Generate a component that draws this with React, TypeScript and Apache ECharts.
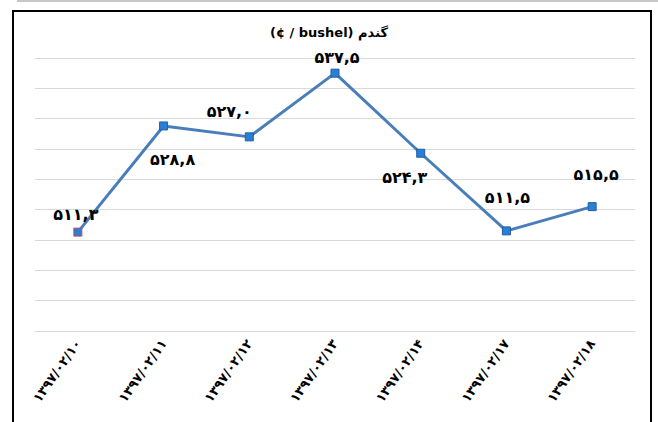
import React, { useEffect, useRef } from "react";
import * as echarts from "echarts";

const categories = [
  "۱۳۹۷/۰۲/۱۰",
  "۱۳۹۷/۰۲/۱۱",
  "۱۳۹۷/۰۲/۱۲",
  "۱۳۹۷/۰۲/۱۳",
  "۱۳۹۷/۰۲/۱۴",
  "۱۳۹۷/۰۲/۱۷",
  "۱۳۹۷/۰۲/۱۸",
];
const values = [511.3, 528.8, 527.0, 537.5, 524.3, 511.5, 515.5];
const titleText = "(¢ / bushel) گندم";

// label placement per point (style only)
const labelPlacement: { position: string; offset: number[] }[] = [
  { position: "top", offset: [-2, 0] },
  { position: "bottom", offset: [9, 16] },
  { position: "top", offset: [-20, -8] },
  { position: "top", offset: [2, 2] },
  { position: "bottom", offset: [-16, 7] },
  { position: "top", offset: [1, -16] },
  { position: "top", offset: [4, -15] },
];

const faDigits = "۰۱۲۳۴۵۶۷۸۹";
const toFa = (v: number) =>
  v
    .toFixed(1)
    .replace(".", ",")
    .replace(/[0-9]/g, (d) => faDigits[Number(d)]);

export default function App() {
  const ref = useRef<HTMLDivElement>(null);
  useEffect(() => {
    if (!ref.current) return;
    const chart = echarts.init(ref.current, null, { renderer: "svg" });
    const font = "'DejaVu Sans', 'Noto Sans', sans-serif";
    chart.setOption({
      animation: false,
      backgroundColor: "#ffffff",
      title: {
        text: titleText,
        left: "center",
        top: 21,
        textStyle: { fontSize: 13, fontWeight: "bold", color: "#000", fontFamily: font },
      },
      grid: { left: 35, right: 23, top: 58, bottom: 91 },
      xAxis: {
        type: "category",
        data: categories,
        boundaryGap: true,
        axisLine: { show: true, lineStyle: { color: "#d9d9d9" } },
        axisTick: { show: false },
        axisLabel: {
          rotate: 55,
          margin: 10,
          fontSize: 13,
          fontWeight: "bold",
          color: "#000",
          fontFamily: font,
        },
      },
      yAxis: {
        type: "value",
        min: 495,
        max: 540,
        interval: 5,
        axisLabel: { show: false },
        axisLine: { show: false },
        axisTick: { show: false },
        splitLine: { lineStyle: { color: "#d9d9d9", width: 1 } },
      },
      graphic: [
        {
          type: "line",
          shape: { x1: 17, y1: 1, x2: 658, y2: 1 },
          style: { stroke: "#c8c8c8", lineWidth: 2 },
        },
        {
          type: "rect",
          shape: { x: 13, y: 11, width: 638, height: 430 },
          style: { fill: "none", stroke: "#000", lineWidth: 2 },
        },
      ],
      series: [
        {
          type: "line",
          data: values.map((v, i) => ({
            value: v,
            label: {
              position: labelPlacement[i].position,
              offset: labelPlacement[i].offset,
            },
            itemStyle: i === 0 ? { borderColor: "#c0504d" } : undefined,
          })),
          lineStyle: { color: "#4a7ebb", width: 3 },
          symbol: "rect",
          symbolSize: 8,
          itemStyle: { color: "#2a7fd4", borderColor: "#1f5fa8", borderWidth: 1 },
          label: {
            show: true,
            fontSize: 16,
            fontWeight: "bold",
            color: "#000",
            fontFamily: font,
            formatter: (p: any) => toFa(p.value),
          },
        },
      ],
    });
    return () => chart.dispose();
  }, []);
  return (
    <div
      ref={ref}
      style={{ position: "fixed", left: 0, top: 0, width: 658, height: 422 }}
    />
  );
}
